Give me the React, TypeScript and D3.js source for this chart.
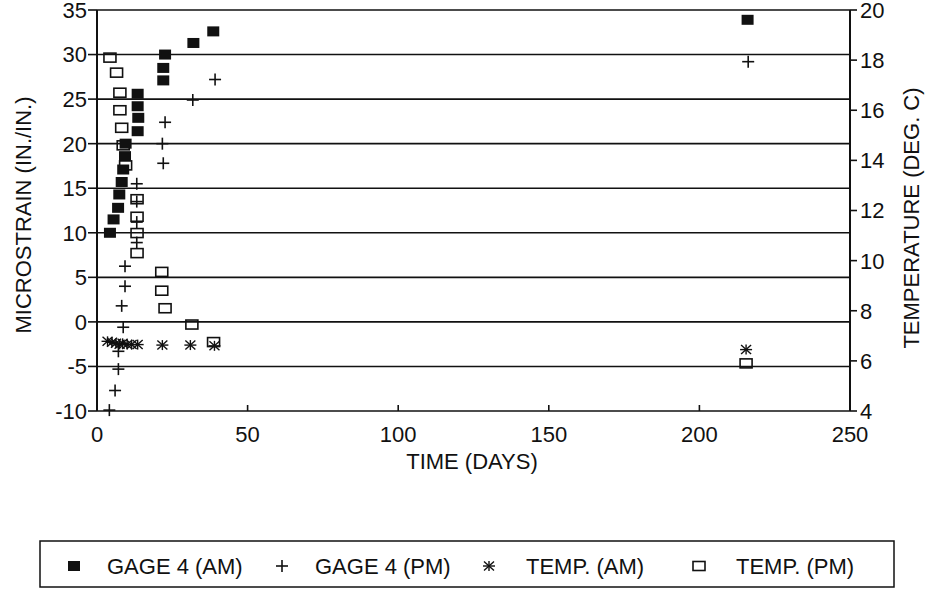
import React from "react";
import * as d3 from "d3";

const gageAmDays = [4.3, 5.5, 7.0, 7.4, 8.2, 8.7, 9.3, 9.5, 13.5, 13.7, 13.5, 13.5, 22, 22, 22.6, 32, 38.6, 216];
const gageAmVals = [10.0, 11.5, 12.8, 14.3, 15.7, 17.1, 18.6, 20.0, 21.4, 22.9, 24.2, 25.6, 27.1, 28.5, 30.0, 31.3, 32.6, 33.9];

const gagePmDays = [4.1, 6.0, 7.1, 7.1, 8.7, 8.2, 9.3, 9.3, 13.2, 13.2, 13.2, 13.2, 22, 21.7, 22.6, 31.8, 39.2, 216.2];
const gagePmVals = [-9.9, -7.7, -5.3, -3.3, -0.6, 1.8, 4.0, 6.25, 8.9, 11.2, 13.5, 15.5, 17.8, 20.0, 22.4, 24.9, 27.2, 29.2];

const tempAmDays = [3.5, 5, 6.3, 7.5, 8.5, 10, 11.5, 13.5, 21.7, 31, 39, 215.5];
const tempAmVals = [6.78, 6.74, 6.7, 6.66, 6.7, 6.65, 6.65, 6.65, 6.63, 6.63, 6.6, 6.45];

const tempPmDays = [4.3, 6.5, 7.6, 7.6, 8.2, 8.7, 9.5, 13.3, 13.3, 13.3, 13.3, 21.5, 21.5, 22.6, 31.5, 38.7, 215.5];
const tempPmVals = [18.1, 17.5, 16.7, 16.0, 15.3, 14.6, 13.8, 12.45, 11.75, 11.1, 10.3, 9.55, 8.8, 8.1, 7.45, 6.75, 5.9];

const xTicks = [0, 50, 100, 150, 200, 250];
const yLeftTicks = [-10, -5, 0, 5, 10, 15, 20, 25, 30, 35];
const yRightTicks = [4, 6, 8, 10, 12, 14, 16, 18, 20];

const legendLabels = ["GAGE 4 (AM)", "GAGE 4 (PM)", "TEMP. (AM)", "TEMP. (PM)"];

const FONT = "'Liberation Sans', Arial, Helvetica, sans-serif";
const INK = "#111";

function FilledSq({ x, y }: { x: number; y: number }) {
  return <rect x={x - 6} y={y - 5} width={12} height={10} fill={INK} />;
}
function OpenSq({ x, y }: { x: number; y: number }) {
  return <rect x={x - 6} y={y - 4.5} width={12} height={9} fill="none" stroke={INK} strokeWidth={1.6} />;
}
function Plus({ x, y }: { x: number; y: number }) {
  return (
    <g stroke={INK} strokeWidth={1.6}>
      <line x1={x - 6} x2={x + 6} y1={y} y2={y} />
      <line x1={x} x2={x} y1={y - 6} y2={y + 6} />
    </g>
  );
}
function Star({ x, y }: { x: number; y: number }) {
  return (
    <g stroke={INK} strokeWidth={1.4}>
      <line x1={x - 6} x2={x + 6} y1={y} y2={y} />
      <line x1={x - 5} x2={x + 5} y1={y - 4.5} y2={y + 4.5} />
      <line x1={x - 5} x2={x + 5} y1={y + 4.5} y2={y - 4.5} />
      <line x1={x} x2={x} y1={y - 5} y2={y + 5} />
    </g>
  );
}

export default function App() {
  const x = d3.scaleLinear().domain([0, 250]).range([97, 850]);
  const yL = d3.scaleLinear().domain([-10, 35]).range([411, 10]);
  const yR = d3.scaleLinear().domain([4, 20]).range([411, 10]);

  const legendItems = [
    { sym: (cx: number, cy: number) => <FilledSq x={cx} y={cy} />, sx: 74, tx: 107 },
    { sym: (cx: number, cy: number) => <Plus x={cx} y={cy} />, sx: 282, tx: 315 },
    { sym: (cx: number, cy: number) => <Star x={cx} y={cy} />, sx: 489, tx: 526 },
    { sym: (cx: number, cy: number) => <OpenSq x={cx} y={cy} />, sx: 699, tx: 736 },
  ];

  return (
    <svg
      width={932}
      height={590}
      style={{ position: "absolute", left: 0, top: 0, background: "#fff" }}
      fontFamily={FONT}
      fill={INK}
    >
      <rect x={0} y={0} width={932} height={590} fill="#fff" />
      {/* gridlines */}
      {yLeftTicks.map((t) => (
        <line key={"g" + t} x1={x(0)} x2={x(250)} y1={yL(t)} y2={yL(t)} stroke={INK} strokeWidth={1.6} />
      ))}
      {/* axes */}
      <line x1={x(0)} x2={x(0)} y1={yL(35)} y2={yL(-10)} stroke={INK} strokeWidth={2} />
      <line x1={x(250)} x2={x(250)} y1={yL(35)} y2={yL(-10)} stroke={INK} strokeWidth={2} />
      {/* left ticks */}
      {yLeftTicks.map((t) => (
        <g key={"l" + t}>
          <line x1={x(0) - 9} x2={x(0)} y1={yL(t)} y2={yL(t)} stroke={INK} strokeWidth={1.6} />
          <text x={87} y={yL(t)} dy="0.36em" textAnchor="end" fontSize={22}>
            {t}
          </text>
        </g>
      ))}
      {/* right ticks */}
      {yRightTicks.map((t) => (
        <g key={"r" + t}>
          <line x1={x(250)} x2={x(250) + 7} y1={yR(t)} y2={yR(t)} stroke={INK} strokeWidth={1.6} />
          <text x={860} y={yR(t)} dy="0.36em" textAnchor="start" fontSize={22}>
            {t}
          </text>
        </g>
      ))}
      {/* bottom ticks */}
      {xTicks.map((t) => (
        <g key={"x" + t}>
          <line x1={x(t)} x2={x(t)} y1={yL(-10)} y2={yL(-10) - 6} stroke={INK} strokeWidth={1.6} />
          <text x={x(t)} y={442} textAnchor="middle" fontSize={22}>
            {t}
          </text>
        </g>
      ))}
      {/* axis titles */}
      <text x={472} y={469} textAnchor="middle" fontSize={22}>
        TIME (DAYS)
      </text>
      <text transform={`translate(31,215) rotate(-90)`} textAnchor="middle" fontSize={22}>
        MICROSTRAIN (IN./IN.)
      </text>
      <text transform={`translate(919,218) rotate(-90)`} textAnchor="middle" fontSize={22}>
        TEMPERATURE (DEG. C)
      </text>

      {/* data */}
      {tempAmDays.map((d, i) => (
        <Star key={"ta" + i} x={x(d)} y={yR(tempAmVals[i])} />
      ))}
      {tempPmDays.map((d, i) => (
        <OpenSq key={"tp" + i} x={x(d)} y={yR(tempPmVals[i])} />
      ))}
      {gagePmDays.map((d, i) => (
        <Plus key={"gp" + i} x={x(d)} y={yL(gagePmVals[i])} />
      ))}
      {gageAmDays.map((d, i) => (
        <FilledSq key={"ga" + i} x={x(d)} y={yL(gageAmVals[i])} />
      ))}

      {/* legend */}
      <rect x={40} y={541} width={854} height={46} fill="none" stroke={INK} strokeWidth={1.5} />
      {legendItems.map((it, i) => (
        <g key={"lg" + i}>
          {it.sym(it.sx, 566)}
          <text x={it.tx} y={574} fontSize={22}>
            {legendLabels[i]}
          </text>
        </g>
      ))}
    </svg>
  );
}
